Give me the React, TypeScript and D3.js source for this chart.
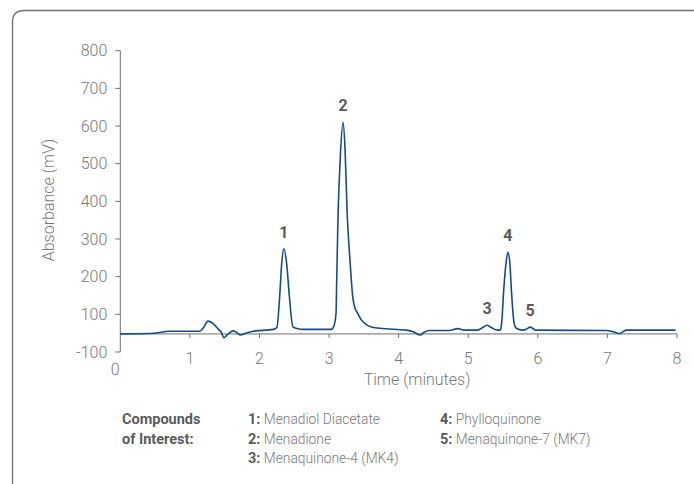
import React from "react";
import * as d3 from "d3";

// chromatogram trace (minutes, mV)
const times = [
  0, 0.43, 0.71, 1.14, 1.2, 1.26, 1.33, 1.41, 1.45, 1.49, 1.55, 1.62, 1.67, 1.73, 1.8, 1.91,
  2.2, 2.25, 2.29, 2.32, 2.35, 2.39, 2.43, 2.48, 2.55, 2.63, 3.03, 3.07, 3.1, 3.11, 3.13,
  3.16, 3.2, 3.23, 3.26, 3.29, 3.32, 3.34, 3.37, 3.41, 3.46, 3.52, 3.6, 3.73, 4.11, 4.21, 4.31, 4.37,
  4.44, 4.73, 4.85, 4.95, 5.13, 5.2, 5.27, 5.33, 5.42, 5.46, 5.48, 5.51, 5.54, 5.57, 5.6,
  5.62, 5.66, 5.69, 5.78, 5.84, 5.89, 5.94, 5.97, 6.98, 7.08, 7.17, 7.27, 7.98,
];
const absorbance = [
  48, 49, 55, 55, 66, 82, 76, 60, 53, 38, 48, 56, 52, 45, 50, 55,
  60, 65, 147, 236, 274, 236, 147, 67, 62, 60, 60, 69, 103, 191, 369,
  511, 610, 537, 369, 271, 191, 147, 118, 103, 86, 75, 67, 63, 58, 54, 45, 53,
  57, 57, 62, 58, 58, 64, 71, 65, 58, 58, 76, 165, 231, 265, 231,
  165, 76, 63, 58, 61, 66, 61, 58, 57, 54, 49, 58, 58,
];

const yTicks = [0, 100, 200, 300, 400, 500, 600, 700, 800];
const yTickLabels = ["-100", "100", "200", "300", "400", "500", "600", "700", "800"];
const xTicks = [0, 1, 2, 3, 4, 5, 6, 7, 8];

const peakIds = ["1", "2", "3", "4", "5"];
const peakTimes = [2.35, 3.2, 5.27, 5.57, 5.89];
const peakTops = [274, 610, 71, 265, 66];

const compoundNums = ["1:", "2:", "3:", "4:", "5:"];
const compoundNames = [
  "Menadiol Diacetate",
  "Menadione",
  "Menaquinone-4 (MK4)",
  "Phylloquinone",
  "Menaquinone-7 (MK7)",
];

const W = 694;
const H = 484;
const FONT = "'Roboto', 'Liberation Sans', Arial, sans-serif";
const TEXT = "#77787b";
const BOLD = "#5a5b5e";
const AXIS = "#6d6e71";
const LINE = "#164b85";

export default function App() {
  const x = d3.scaleLinear().domain([0, 8]).range([120.3, 677]);
  const y = d3.scaleLinear().domain([0, 800]).range([352, 50.7]);
  const axisY = y(48);

  const pts: [number, number][] = times.map((t, i) => [t, absorbance[i]]);
  const line = d3
    .line<[number, number]>()
    .x((d) => x(d[0]))
    .y((d) => y(d[1]))
    .curve(d3.curveMonotoneX);

  return (
    <svg
      width={W}
      height={H}
      style={{ position: "absolute", left: 0, top: 0, background: "#fff" }}
      fontFamily={FONT}
    >
      {/* frame with rounded top-left corner */}
      <path
        d={`M12.5,${H + 2} L12.5,22 Q12.5,10.5 24.5,10.5 L${W + 2},10.5`}
        fill="none"
        stroke="#6f7073"
        strokeWidth={1.3}
      />

      {/* y axis */}
      <line x1={x(0)} x2={x(0)} y1={y(800)} y2={y(0)} stroke={AXIS} strokeWidth={1} />
      {yTicks.map((t, i) => (
        <g key={"y" + t}>
          <line x1={x(0) - 5} x2={x(0)} y1={y(t)} y2={y(t)} stroke={AXIS} strokeWidth={1} />
          <text
            x={x(0) - 13}
            y={y(t)}
            dy="0.35em"
            textAnchor="end"
            fontSize={16}
            fontWeight={300}
            fill={TEXT}
          >
            {yTickLabels[i]}
          </text>
        </g>
      ))}

      {/* x axis */}
      <line x1={x(0)} x2={x(8)} y1={axisY} y2={axisY} stroke={AXIS} strokeWidth={1} />
      {xTicks.map((t) => (
        <g key={"x" + t}>
          {t > 0 && (
            <line x1={x(t)} x2={x(t)} y1={axisY} y2={axisY + 4} stroke={AXIS} strokeWidth={1} />
          )}
          <text
            x={t === 0 ? x(t) - 5 : x(t)}
            y={t === 0 ? 375 : 364}
            textAnchor="middle"
            fontSize={16}
            fontWeight={300}
            fill={TEXT}
          >
            {t}
          </text>
        </g>
      ))}

      <text
        transform={`translate(54,200) rotate(-90)`}
        textAnchor="middle"
        fontSize={16}
        fontWeight={300}
        fill={TEXT}
      >
        Absorbance (mV)
      </text>
      <text x={417} y={385} textAnchor="middle" fontSize={16} fontWeight={300} fill={TEXT}>
        Time (minutes)
      </text>

      {/* trace */}
      <path d={line(pts) || ""} fill="none" stroke={LINE} strokeWidth={1.6} />

      {/* peak labels */}
      {peakIds.map((p, i) => (
        <text
          key={"p" + p}
          x={x(peakTimes[i])}
          y={y(peakTops[i]) - 11}
          textAnchor="middle"
          fontSize={16}
          fontWeight={700}
          fill={BOLD}
        >
          {p}
        </text>
      ))}

      {/* compounds legend */}
      <g>
        <text x={122} y={424} fontSize={14.5} fontWeight={700} fill={BOLD}>
          Compounds
        </text>
        <text x={122} y={444} fontSize={14.5} fontWeight={700} fill={BOLD}>
          of Interest:
        </text>
        {compoundNames.map((n, i) => {
          const col = i < 3 ? 248 : 440;
          const row = i < 3 ? i : i - 3;
          return (
            <text key={"c" + i} x={col} y={424 + row * 19.5} fill={TEXT}>
              <tspan fontSize={14.5} fontWeight={700} fill={BOLD}>
                {compoundNums[i]}
              </tspan>
              <tspan fontSize={13.8} fontWeight={300}> {n}</tspan>
            </text>
          );
        })}
      </g>
    </svg>
  );
}
